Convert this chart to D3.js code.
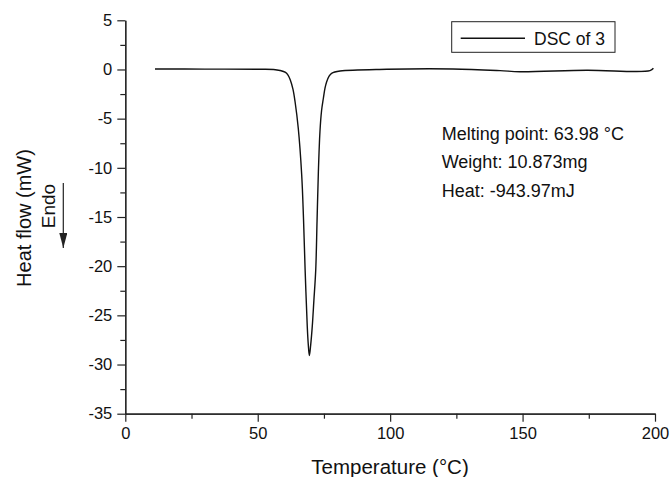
<!DOCTYPE html>
<html>
<head>
<meta charset="utf-8">
<script src="https://cdn.jsdelivr.net/npm/d3@7"></script>
<style>
  body { margin: 0; background: #fff; }
  text { font-family: "Liberation Sans", Arial, sans-serif; fill: #111; }
</style>
</head>
<body>
<svg id="chart" width="670" height="477"></svg>
<script>
// DSC curve (temperature in °C, heat flow in mW)
var temps = [11.2, 30, 50, 56, 58.4, 60.5, 61.5, 62.3, 63.3, 64.1, 65.3, 66.6, 67.3, 67.9, 68.7, 69.1, 69.5,
             70.0, 70.6, 71.2, 71.9, 72.4, 72.9, 73.5, 74.1, 74.8, 75.4, 76.0, 76.9, 77.9, 81.1,
             98.7, 123.7, 141.5, 149.0, 174.2, 198.1, 199.4];
var flows = [0.05, 0.04, 0.02, 0.0, -0.1, -0.3, -0.6, -1.07, -2.0, -3.28, -5.95, -10.7, -15.3, -20.4, -26.1, -28.0, -29.1,
             -28.0, -26.1, -23.5, -20.4, -15.4, -10.4, -6.3, -4.2, -2.9, -1.9, -1.27, -0.7, -0.39, -0.16,
             0.02, 0.05, -0.12, -0.23, -0.08, -0.12, 0.12];
var xTicks = [0, 50, 100, 150, 200];
var yTicks = [5, 0, -5, -10, -15, -20, -25, -30, -35];
var notes = ["Melting point: 63.98 °C", "Weight: 10.873mg", "Heat: -943.97mJ"];
var seriesName = "DSC of 3";

var svg = d3.select("#chart");
var x = d3.scaleLinear().domain([0, 200]).range([125.3, 655]);
var y = d3.scaleLinear().domain([-35, 5]).range([413.7, 20.3]);

// minor ticks halfway between majors
var xMinor = d3.range(25, 200, 50);
var yMinor = d3.range(-32.5, 5, 5);
var plain = function(d) { return String(d); };  // keep the ascii hyphen

function styleAxis(g) {
    g.selectAll("path, line").attr("stroke", "#222").attr("stroke-width", 1.2);
    g.selectAll("text").style("font-size", "16.5px").attr("fill", "#111");
}

svg.append("g").attr("transform", "translate(0,413.7)")
    .call(d3.axisBottom(x).tickValues(xMinor).tickSize(5).tickFormat("").tickSizeOuter(0))
    .call(styleAxis);
svg.append("g").attr("transform", "translate(0,413.7)")
    .call(d3.axisBottom(x).tickValues(xTicks).tickSize(8).tickPadding(6).tickFormat(plain).tickSizeOuter(0))
    .call(styleAxis);
svg.append("g").attr("transform", "translate(125.3,0)")
    .call(d3.axisLeft(y).tickValues(yMinor).tickSize(5).tickFormat("").tickSizeOuter(0))
    .call(styleAxis);
svg.append("g").attr("transform", "translate(125.3,0)")
    .call(d3.axisLeft(y).tickValues(yTicks).tickSize(8).tickPadding(5).tickFormat(plain).tickSizeOuter(0))
    .call(styleAxis);

var pts = temps.map(function(t, i) { return [t, flows[i]]; });
var line = d3.line().x(function(d) { return x(d[0]); }).y(function(d) { return y(d[1]); })
    .curve(d3.curveCatmullRom.alpha(0.5));
svg.append("path").datum(pts).attr("d", line)
    .attr("fill", "none").attr("stroke", "#111").attr("stroke-width", 1.4);

// axis titles
svg.append("text").attr("x", 390).attr("y", 474).attr("text-anchor", "middle")
    .style("font-size", "20.5px").text("Temperature (°C)");
svg.append("text").attr("transform", "translate(31,218) rotate(-90)").attr("text-anchor", "middle")
    .style("font-size", "20px").text("Heat flow (mW)");
svg.append("text").attr("transform", "translate(55,206) rotate(-90)").attr("text-anchor", "middle")
    .style("font-size", "19px").text("Endo");

// endo arrow
svg.append("defs").append("marker").attr("id", "ah").attr("viewBox", "0 0 10 10")
    .attr("refX", 10).attr("refY", 5).attr("markerWidth", 15).attr("markerHeight", 8)
    .attr("preserveAspectRatio", "none")
    .attr("markerUnits", "userSpaceOnUse").attr("orient", "auto")
    .append("path").attr("d", "M0,0 L10,5 L0,10 Z").attr("fill", "#222");
svg.append("line").attr("x1", 63.3).attr("x2", 63.3).attr("y1", 183).attr("y2", 248)
    .attr("stroke", "#222").attr("stroke-width", 1.2).attr("marker-end", "url(#ah)");

// legend
var leg = svg.append("g");
leg.append("rect").attr("x", 451.7).attr("y", 21.7).attr("width", 163.3).attr("height", 30.6)
    .attr("fill", "#fff").attr("stroke", "#222").attr("stroke-width", 1);
leg.append("line").attr("x1", 460.7).attr("x2", 525).attr("y1", 38.3).attr("y2", 38.3)
    .attr("stroke", "#111").attr("stroke-width", 1.4);
leg.append("text").attr("x", 534).attr("y", 44.5).style("font-size", "17.5px").text(seriesName);

// annotations
svg.selectAll("text.note").data(notes).enter().append("text").attr("class", "note")
    .attr("x", 441.7).attr("y", function(d, i) { return 139.5 + i * 28.7; })
    .style("font-size", "18px").text(function(d) { return d; });
</script>
</body>
</html>
